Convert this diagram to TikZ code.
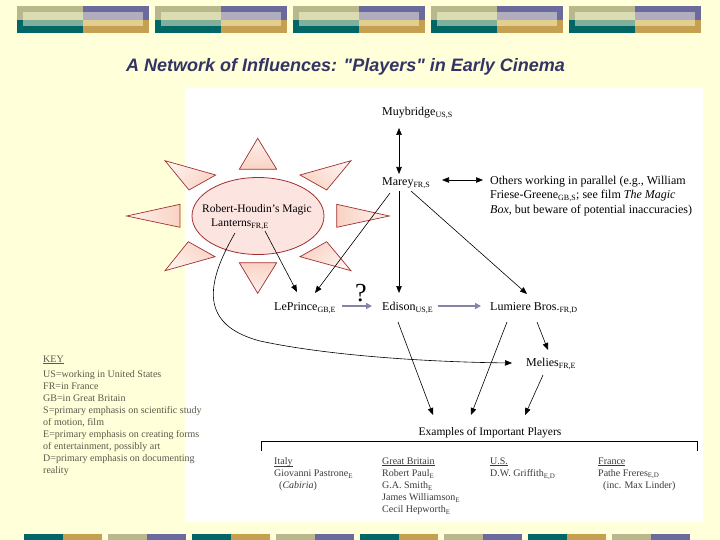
\documentclass[tikz,border=0pt]{standalone}
\usepackage{fontspec}
\setmainfont{Liberation Serif}
\newfontfamily\titlefont{Liberation Sans}
\usepackage{amsmath}
\usetikzlibrary{arrows.meta,calc,shapes.geometric}
\definecolor{bgc}{HTML}{FFFFD9}
\definecolor{khaki}{HTML}{B8B88C}
\definecolor{purp}{HTML}{6A6A9C}
\definecolor{tealc}{HTML}{006666}
\definecolor{goldc}{HTML}{C4A050}
\definecolor{khakiL}{HTML}{DCDCB2}
\definecolor{purpL}{HTML}{B0AEBE}
\definecolor{tealL}{HTML}{80B09C}
\definecolor{goldL}{HTML}{E2CF90}
\definecolor{sunred}{HTML}{A03030}
\definecolor{raylight}{HTML}{FEF2EE}
\definecolor{raydark}{HTML}{F9D2C4}
\definecolor{ellfill}{HTML}{FCE4E0}
\definecolor{arrowgray}{HTML}{8484A6}
\definecolor{titleblue}{HTML}{333366}
\definecolor{keygray}{HTML}{5A5A4C}
\definecolor{tablegray}{HTML}{3A3A3A}
\newcommand{\lowtag}[1]{$_{\text{#1}}$}
\newcommand{\ulx}[1]{\setbox0\hbox{#1}\rlap{\rule[-1.3pt]{\wd0}{0.5pt}}\box0}
\begin{document}
\begin{tikzpicture}[x=1pt,y=-1pt,
  lbl/.style={anchor=base west, inner sep=0pt, font=\fontsize{12}{14.5}\selectfont},
  arr/.style={line width=0.6pt, -{Triangle[length=7pt,width=5.5pt]}},
  darr/.style={line width=0.6pt, {Triangle[length=7pt,width=5.5pt]}-{Triangle[length=7pt,width=5.5pt]}},
  garr/.style={line width=1.6pt, draw=arrowgray, -{Triangle[length=6pt,width=6pt]}},
  ray/.style={top color=raylight, bottom color=raydark, draw=sunred, line width=0.7pt, shading angle=#1},
  colbox/.style={anchor=north west, align=left, inner sep=0pt, font=\fontsize{10}{12}\selectfont, text=tablegray},
]
\useasboundingbox (0,0) rectangle (720,540);
\fill[bgc] (0,0) rectangle (720,540);
% top banner
\foreach \i in {0,...,4}{
  \begin{scope}[shift={({17+138*\i},0)}]
    \fill[khaki] (0,6) rectangle (66,20);
    \fill[purp] (66,6) rectangle (132,20);
    \fill[tealc] (0,20) rectangle (66,33);
    \fill[goldc] (66,20) rectangle (132,33);
    \fill[khakiL] (6,12) rectangle (66,20);
    \fill[purpL] (66,12) rectangle (126,20);
    \fill[tealL] (6,20) rectangle (66,26);
    \fill[goldL] (66,20) rectangle (126,26);
  \end{scope}
}
% bottom strip
\foreach \i/\ca/\cb in {0/tealc/goldc,1/khaki/purp,2/tealc/goldc,3/khaki/purp,4/tealc/goldc,5/khaki/purp,6/tealc/goldc,7/khaki/purp}{
  \fill[\ca] ({24+84*\i},534) rectangle ++(39,6);
  \fill[\cb] ({63+84*\i},534) rectangle ++(39,6);
}
% white panel
\fill[white] (185,88) rectangle (703,522);
% title
\node[font={\titlefont\fontsize{18}{20}\selectfont\bfseries\itshape}, text=titleblue, inner sep=0pt] (title) at (345.5,67) {A Network of Influences: "Players" in Early Cinema};
% sun rays
\path[ray=0] (257.7,138.3) -- (239.3,169.3) -- (276.7,169.3) -- cycle;
\path[ray=180] (239.3,262.7) -- (276.7,262.7) -- (257.7,293.3) -- cycle;
\path[ray=90] (126.7,216) -- (180,204.3) -- (180,227.3) -- cycle;
\path[ray=-90] (389.3,216) -- (336.7,204.3) -- (336.7,227.3) -- cycle;
\path[ray=45] (165,160.7) -- (215.7,175) -- (189,190) -- cycle;
\path[ray=-45] (351,160.7) -- (300,175) -- (326.7,190) -- cycle;
\path[ray=135] (165,270.7) -- (188.3,241.7) -- (215,256.7) -- cycle;
\path[ray=-135] (351,270.7) -- (326.7,241.7) -- (300,256.7) -- cycle;
\node[ellipse, draw=sunred, fill=ellfill, line width=0.8pt, minimum width=132pt, minimum height=77pt, inner sep=0pt] (rh) at (258,216) {};
\node[anchor=base west, inner sep=0pt, font=\fontsize{11.5}{13}\selectfont] (rh1) at (202,212) {Robert-Houdin's Magic};
\node[anchor=base west, inner sep=0pt, font=\fontsize{11.5}{13}\selectfont] (rh2) at (211,226.5) {Lanterns\lowtag{FR,E}};
% labels
\node[lbl] (muy) at (382,115.5) {Muybridge\lowtag{US,S}};
\node[lbl] (marey) at (382,185.5) {Marey\lowtag{FR,S}};
\node[lbl] (o1) at (490,184.5) {Others working in parallel (e.g., William};
\node[lbl] (o2) at (490,199) {Friese-Greene\lowtag{GB,S}; see film \textit{The Magic}};
\node[lbl] (o3) at (490,213.5) {\textit{Box}, but beware of potential inaccuracies)};
\node[lbl] (lep) at (274,310.5) {LePrince\lowtag{GB,E}};
\node[lbl] (edi) at (382,310.5) {Edison\lowtag{US,E}};
\node[lbl] (lum) at (490,310.5) {Lumiere Bros.\lowtag{FR,D}};
\node[lbl] (mel) at (526,366.5) {Melies\lowtag{FR,E}};
\node[anchor=base west, inner sep=0pt, font=\fontsize{26}{28}\selectfont] (q) at (355,301.5) {?};
% connectors
\draw[darr] ($(muy.base west)+(17,12.5)$) -- ($(marey.base west)+(17,-11.5)$);
\draw[darr] ($(marey.base west)+(60,-5.5)$) -- ($(o1.base west)+(-7,-4.5)$);
\draw[arr] ($(marey.base west)+(17,5.5)$) -- ($(edi.base west)+(17,-17.5)$);
\draw[arr] ($(marey.base west)+(29,5.5)$) -- ($(lum.base west)+(37,-16.5)$);
\draw[arr] ($(marey.base west)+(8,7.5)$) -- ($(lep.base west)+(41,-17.5)$);
\draw[arr] ($(rh.center)+(7,15)$) -- ($(lep.base west)+(23,-18.5)$);
\draw[garr] ($(lep.base west)+(68,-4.5)$) -- ($(edi.base west)+(-10,-4.5)$);
\draw[garr] ($(edi.base west)+(56,-4.5)$) -- ($(lum.base west)+(-9,-4.5)$);
\draw[arr] ($(lum.base west)+(47,11.5)$) -- ($(mel.base west)+(22,-16.5)$);
\draw[arr] ($(rh.center)+(-23,17)$) .. controls (205,285) and (200,325) .. (260,341) .. controls (330,356) and (430,362) .. ($(mel.base west)+(-14,-3.5)$);
% examples
\node[inner sep=0pt, font=\fontsize{11.5}{13}\selectfont] (ex) at (490,433) {Examples of Important Players};
\draw[arr] ($(edi.base west)+(16,11.5)$) -- ($(ex.center)+(-57,-18)$);
\draw[arr] ($(lum.base west)+(17,11.5)$) -- ($(ex.center)+(-19,-18)$);
\draw[arr] ($(mel.base west)+(17,8.5)$) -- ($(ex.center)+(35,-18)$);
\draw[line width=0.6pt] (261,451) -- (261,441) -- (697,441) -- (697,451);
\node[colbox] (italy) at (274,457.7) {\ulx{Italy}\\ Giovanni Pastrone\lowtag{E}\\ \hspace*{5pt}(\textit{Cabiria})};
\node[colbox] (gb) at (382,457.7) {\ulx{Great Britain}\\ Robert Paul\lowtag{E}\\ G.A. Smith\lowtag{E}\\ James Williamson\lowtag{E}\\ Cecil Hepworth\lowtag{E}};
\node[colbox] (us) at (490,457.7) {\ulx{U.S.}\\ D.W. Griffith\lowtag{E,D}};
\node[colbox] (fr) at (598,457.7) {\ulx{France}\\ Pathe Freres\lowtag{E,D}\\ \hspace*{5pt}(inc. Max Linder)};
% key
\node[anchor=north west, align=left, inner sep=0pt, font=\fontsize{10}{12}\selectfont, text=keygray] (key) at (43,355.4) {\ulx{KEY}\\[3pt] US=working in United States\\ FR=in France\\ GB=in Great Britain\\ S=primary emphasis on scientific study\\ of motion, film\\ E=primary emphasis on creating forms\\ of entertainment, possibly art\\ D=primary emphasis on documenting\\ reality};
\end{tikzpicture}
\end{document}
